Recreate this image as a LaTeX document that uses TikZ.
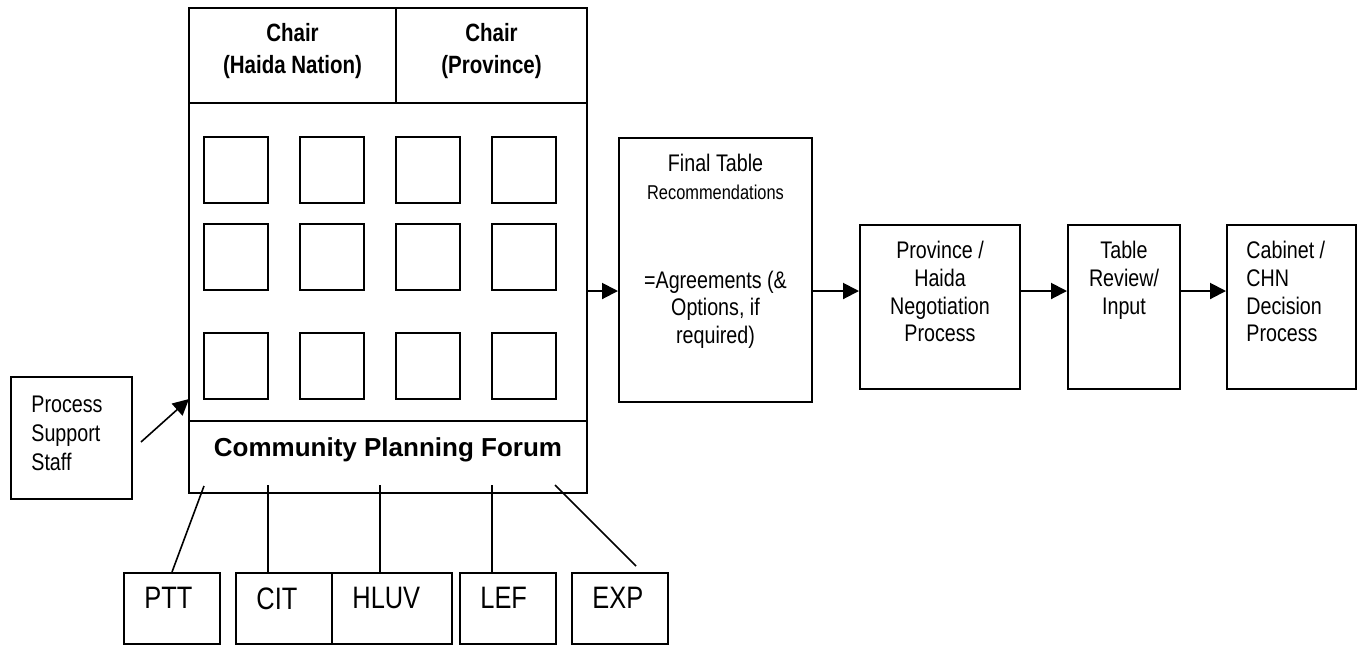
\documentclass[tikz,border=0pt]{standalone}
\usepackage{fontspec}
\setmainfont{Liberation Sans}[FakeStretch=0.82]
\newfontfamily\forumfont{Liberation Sans}
\usetikzlibrary{positioning,fit,arrows.meta}
\newcommand{\bodyFont}{\fontsize{12}{13.8}\selectfont}

\begin{document}
\begin{tikzpicture}[x=0.5pt,y=-0.5pt,
  box/.style={draw, line width=1pt, inner sep=0pt},
  seat/.style={draw, line width=1pt, inner sep=0pt},
  txt/.style={inner sep=0pt, align=center, font=\bodyFont},
  lbl/.style={inner sep=0pt, font=\fontsize{15.5}{18}\selectfont},
  link/.style={line width=0.8pt},
  flow/.style={line width=1pt, -{Triangle[length=8pt,width=8pt]}}]
\useasboundingbox (0,0) rectangle (1361,645);
\node[box, fit={(189,8) (396,103)}] (hdrH) {};
\node[box, fit={(396,8) (587,103)}] (hdrP) {};
\node[box, fit={(189,103) (587,421)}] (body) {};
\node[box, fit={(189,421) (587,493)}] (cpf) {};
\node[txt, font=\bfseries\fontsize{12.5}{16}\selectfont] at ([yshift=2pt]hdrH.center) (chairH) {Chair\\(Haida Nation)};
\node[txt, font=\bfseries\fontsize{12.5}{16}\selectfont] at ([yshift=2pt]hdrP.center) (chairP) {Chair\\(Province)};
\node[txt, font=\forumfont\bfseries\fontsize{13}{15}\selectfont] at ([yshift=3.6pt]cpf.center) (cpfTxt) {Community Planning Forum};
\foreach \c in {0,...,3}
  \foreach \r/\yy in {1/137,2/224,3/333}
    \node[seat, fit={({204+96*\c},\yy) ({268+96*\c},{\yy+66})}] (s\r\c) {};
\node[box, fit={(11,377) (132,499)}] (pss) {};
\node[txt, align=left, font=\fontsize{12}{14.5}\selectfont, below right=10pt and 10.5pt of pss.north west] (pssTxt) {Process\\Support\\Staff};
\node[box, fit={(619,138) (812,402)}] (final) {};
\node[txt, below=8.5pt of final.north] (finalTxt) {Final Table\\{\fontsize{10}{12}\selectfont Recommendations}\\[30.5pt]=Agreements (\&\\Options, if\\required)};
\node[box, fit={(860,225) (1020,389)}] (prov) {};
\node[txt, below=8.5pt of prov.north] (provTxt) {Province /\\Haida\\Negotiation\\Process};
\node[box, fit={(1068,225) (1180,389)}] (review) {};
\node[txt, below=8.5pt of review.north] (reviewTxt) {Table\\Review/\\Input};
\node[box, fit={(1227,225) (1356,389)}] (cab) {};
\node[txt, align=left, below right=8.5pt and 10pt of cab.north west] (cabTxt) {Cabinet /\\CHN\\Decision\\Process};
\node[box, fit={(124,573) (220,644)}] (ptt) {};
\node[box, fit={(236,573) (332,644)}] (cit) {};
\node[box, fit={(332,573) (452,644)}] (hluv) {};
\node[box, fit={(460,573) (556,644)}] (lef) {};
\node[box, fit={(572,573) (668,644)}] (exp) {};
\node[lbl, below right=7.5pt and 10.5pt of ptt.north west] (pttTxt) {PTT};
\node[lbl, below right=7.5pt and 10.5pt of cit.north west] (citTxt) {CIT};
\node[lbl, below right=7.5pt and 10.5pt of hluv.north west] (hluvTxt) {HLUV};
\node[lbl, below right=7.5pt and 10.5pt of lef.north west] (lefTxt) {LEF};
\node[lbl, below right=7.5pt and 10.5pt of exp.north west] (expTxt) {EXP};
\coordinate (cpfA) at (204,486);
\coordinate (cpfB) at (268,485);
\coordinate (cpfC) at (380,485);
\coordinate (cpfD) at (492,485);
\coordinate (cpfE) at (555,485);
\coordinate (expTip) at (636,566);
\coordinate (bodyIn) at (189,399);
\coordinate (lane) at (0,291);
\draw[link] (ptt.north) -- (cpfA);
\draw[link] (cit.north -| cpfB) -- (cpfB);
\draw[link] (hluv.north -| cpfC) -- (cpfC);
\draw[link] (lef.north -| cpfD) -- (cpfD);
\draw[link] (expTip) -- (cpfE);
\draw[flow, line width=0.8pt] ([xshift=4pt,yshift=-2pt]pss.east) -- (bodyIn);
\draw[flow] (body.east |- lane) -- (final.west |- lane);
\draw[flow] (final.east |- lane) -- (prov.west |- lane);
\draw[flow] (prov.east |- lane) -- (review.west |- lane);
\draw[flow] (review.east |- lane) -- (cab.west |- lane);
\end{tikzpicture}
\end{document}
